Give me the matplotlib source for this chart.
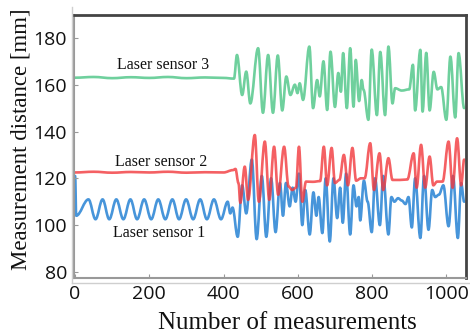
import matplotlib
matplotlib.use("Agg")
import matplotlib.pyplot as plt
from matplotlib.path import Path
from matplotlib.patches import PathPatch
from matplotlib.lines import Line2D

s3_x = [0, 50, 100, 150, 200, 250, 300, 350, 400, 428,
        436, 450, 461, 472, 493, 506, 520, 533, 546, 558, 569, 580, 592, 599, 605, 614,
        631, 641, 652, 659, 669, 679, 688, 700, 709, 716, 722, 732, 741, 750, 756, 765,
        772, 777, 790, 799, 813, 822, 835, 844, 855, 862, 880, 900, 910, 916, 930, 936,
        946, 955, 966, 976, 986, 1000, 1011, 1024, 1033, 1048]
s3_y = [163, 163.3, 162.8, 163.2, 162.9, 163.3, 162.8, 163.1, 162.9, 162.6,
        172.7, 155.6, 165.6, 152, 175.6, 148, 172.7, 148, 172.5, 149, 163.5, 155.6, 160, 156.4, 160.6, 153.5,
        176.3, 150, 162, 155, 170, 149.2, 174.1, 150.5, 165, 157, 173.5, 150, 175.6, 150.6, 170.6, 153,
        162, 157.8, 145, 175, 147, 174, 147, 176.3, 152, 158.5, 157.5, 158, 168.5, 149, 174.9, 148.5,
        173.6, 149, 165.5, 158, 159, 145, 172, 146, 173.5, 150]

s2_x = [0, 50, 100, 150, 200, 250, 300, 350, 400, 425, 432, 440, 445, 457, 466, 484, 495,
        511, 523, 536, 547, 563, 575, 585, 595, 603, 612, 622, 640, 660, 670, 679, 691, 700,
        712, 724, 735, 747, 757, 770, 780, 795, 805, 820, 830, 844, 855, 875, 895, 912, 920,
        932, 943, 955, 965, 975, 990, 1006, 1017, 1029, 1040, 1048]
s2_y = [122.5, 122.8, 122.4, 122.7, 122.5, 122.8, 122.4, 122.6, 122.5, 123.5, 124, 118, 109.5, 125, 110.8, 138.5, 110,
        135.7, 110.8, 133.5, 113, 133.5, 116.5, 115, 116, 133.5, 110, 118.6, 118.5, 118.8, 133.5, 117, 133, 118,
        119.3, 130, 117, 133, 119, 120, 120, 135, 115, 130.7, 115, 128.6, 119.3, 119.3, 119.5, 130.7, 116,
        134.3, 116, 129.3, 117, 118.6, 118.6, 135.7, 116, 137.1, 117, 128]

s1_x = [0, 3, 36, 55, 74, 92, 111, 130, 149, 167, 186, 205, 224, 243, 262, 280, 299, 318, 337, 355,
        374, 393, 411, 418, 424, 438, 450, 461, 476, 489, 503, 515, 528, 540, 552, 560, 568, 578,
        586, 594, 603, 612, 620, 632, 642, 650, 656, 666, 675, 686, 696, 706, 714, 721, 730, 741,
        750, 758, 764, 768, 778, 788, 799, 808, 821, 830, 844, 852, 860, 870, 880, 890, 898, 907,
        916, 930, 940, 952, 962, 970, 980, 992, 1006, 1018, 1031, 1040, 1048]
s1_y = [121, 104, 111, 102.5, 111, 102.5, 111, 102.5, 111, 102.5, 111, 102.5, 111, 102.5, 111, 102.5, 111, 102.5, 111, 102.5,
        111, 102.5, 110, 105, 107.5, 95, 117, 105, 128, 94, 121, 95, 120, 97, 118, 104, 118, 108,
        116, 110, 122, 100, 115, 96, 114, 104, 112, 96.6, 120, 93, 120, 103, 116, 101, 122, 96,
        117, 108, 112, 102, 119, 110, 97, 120, 100, 121, 96, 112, 110, 111.5, 110.5, 109, 112, 99,
        120, 94.5, 121, 98, 115, 112, 113, 117, 99.5, 121, 94.5, 118, 110]

x_ticks = [0, 200, 400, 600, 800, 1000]
y_ticks = [80, 100, 120, 140, 160, 180]
labels = ["Laser sensor 1", "Laser sensor 2", "Laser sensor 3"]
label_pos_x = [227, 231, 238]
label_pos_y = [96.7, 127, 168.5]

colors = ["#3d8fd8", "#f2383c", "#5fcb93"]


def smooth_path(xs, ys):
    verts = [(xs[0], ys[0])]
    codes = [Path.MOVETO]
    for i in range(1, len(xs)):
        x0, y0, x1, y1 = xs[i - 1], ys[i - 1], xs[i], ys[i]
        d = (x1 - x0) * 0.36
        verts += [(x0 + d, y0), (x1 - d, y1), (x1, y1)]
        codes += [Path.CURVE4] * 3
    return Path(verts, codes)


fig = plt.figure(figsize=(4.70, 3.34), dpi=100)
ax = fig.add_axes([74 / 470, 1 - 278 / 334, 392 / 470, 263.5 / 334])
ax.set_xlim(-3, 1053)
ax.set_ylim(77.4, 190)

for xs, ys, c, a in [(s3_x, s3_y, colors[2], 0.9), (s1_x, s1_y, colors[0], 0.95), (s2_x, s2_y, colors[1], 0.8)]:
    ax.add_patch(PathPatch(smooth_path(xs, ys), fill=False, edgecolor=c, lw=1.9, alpha=a,
                           capstyle="round", joinstyle="round"))

for t, lx, ly in zip(labels, label_pos_x, label_pos_y):
    ax.text(lx, ly, t, family="Liberation Serif", fontsize=11.5, ha="center", va="center", color="#111")

ax.set_xticks(x_ticks)
ax.set_yticks(y_ticks)
ax.tick_params(axis="both", direction="in", length=3, color="#999", labelsize=14, pad=5)
for lab in ax.get_xticklabels() + ax.get_yticklabels():
    lab.set_family("Open Sans")
    lab.set_color("#111")

ax.spines["top"].set_color("#444")
ax.spines["top"].set_linewidth(2)
ax.spines["right"].set_color("#444")
ax.spines["right"].set_linewidth(2)
ax.spines["left"].set_color("#999")
ax.spines["left"].set_linewidth(1.5)
ax.spines["bottom"].set_color("#999")
ax.spines["bottom"].set_linewidth(1.5)

# outer light frame lines of the source figure
fig.add_artist(Line2D([72 / 470, 72 / 470], [1 - 283 / 334, 1 - 7 / 334], color="#cfcfcf", lw=1, transform=fig.transFigure))
fig.add_artist(Line2D([72 / 470, 1.0], [1 - 283 / 334, 1 - 283 / 334], color="#cfcfcf", lw=1, transform=fig.transFigure))

fig.text(287 / 470, 1 - 323 / 334, "Number of measurements", family="Liberation Serif", fontsize=18,
         ha="center", va="center", color="#111")
fig.text(21 / 470, 1 - 139 / 334, "Measurement distance [mm]", family="Liberation Serif", fontsize=16.5,
         ha="center", va="center", rotation=90, color="#111")

fig.savefig("out.png", dpi=100)
